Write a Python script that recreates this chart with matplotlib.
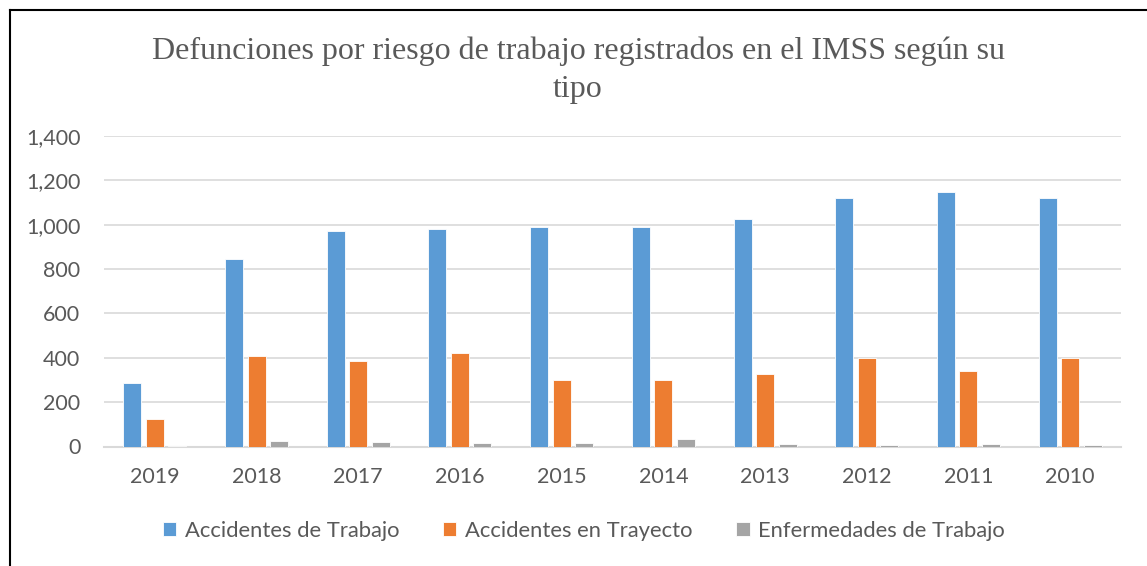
import matplotlib
matplotlib.use("Agg")
import matplotlib.pyplot as plt
from matplotlib.lines import Line2D
from matplotlib.ticker import FuncFormatter
import numpy as np

years = ["2019", "2018", "2017", "2016", "2015", "2014", "2013", "2012", "2011", "2010"]
accidentes_trabajo = [286, 845, 971, 982, 991, 991, 1024, 1122, 1149, 1122]
accidentes_trayecto = [123, 409, 385, 421, 302, 299, 327, 400, 341, 400]
enfermedades_trabajo = [2, 24, 21, 16, 16, 35, 12, 7, 12, 7]
series_names = ["Accidentes de Trabajo", "Accidentes en Trayecto", "Enfermedades de Trabajo"]
colors = ["#5B9BD5", "#ED7D31", "#A5A5A5"]
title_lines = ["Defunciones por riesgo de trabajo registrados en el IMSS según su", "tipo"]

W, H = 1147, 566
fig = plt.figure(figsize=(W / 100, H / 100), dpi=100)
fig.patch.set_facecolor("white")

ax = fig.add_axes([104 / W, 1 - 446.5 / H, (1121 - 104) / W, (446.5 - 136) / H])
x = np.arange(len(years))
bw = 0.177
step = 0.221
for i, (vals, name, c) in enumerate(zip([accidentes_trabajo, accidentes_trayecto, enfermedades_trabajo], series_names, colors)):
    ax.bar(x + (i - 1) * step, vals, width=bw, color=c, edgecolor="white", linewidth=0.6, label=name, zorder=3)

ax.set_xlim(-0.5, len(years) - 0.5)
ax.set_ylim(0, 1400)
ax.set_yticks(np.arange(0, 1401, 200))
ax.yaxis.set_major_formatter(FuncFormatter(lambda v, p: f"{int(v):,}"))
ax.set_xticks(x)
ax.set_xticklabels(years)
ax.grid(axis="y", color="#D9D9D9", linewidth=1.2, zorder=0)
ax.set_axisbelow(True)
for s in ["top", "right", "left"]:
    ax.spines[s].set_visible(False)
ax.spines["bottom"].set_color("#D9D9D9")
ax.spines["bottom"].set_linewidth(1.5)
ax.tick_params(axis="both", length=0, labelsize=15.5, labelcolor="#595959", colors="#595959")
ax.tick_params(axis="y", pad=17)
ax.tick_params(axis="x", pad=15)
for lab in ax.get_xticklabels() + ax.get_yticklabels():
    lab.set_fontfamily("Lato")

fig.text(578 / W, 1 - 59 / H, title_lines[0], ha="center", va="baseline",
         fontsize=23, color="#595959", fontfamily="Liberation Serif")
fig.text(578 / W, 1 - 97 / H, title_lines[1], ha="center", va="baseline",
         fontsize=23, color="#595959", fontfamily="Liberation Serif")

leg = fig.legend(loc="center", bbox_to_anchor=(584 / W, 1 - 531 / H), ncol=3, frameon=False,
                 handlelength=0.6, handleheight=0.6, handletextpad=0.4, columnspacing=2.0,
                 prop={"family": "Lato", "size": 15.8})
for t in leg.get_texts():
    t.set_color("#595959")

fig.add_artist(Line2D([9.5 / W, 9.5 / W], [0, 1 - 9.5 / H], transform=fig.transFigure, color="black", linewidth=1.5))
fig.add_artist(Line2D([9.5 / W, 1], [1 - 9.5 / H, 1 - 9.5 / H], transform=fig.transFigure, color="black", linewidth=1.5))

fig.savefig("out.png", dpi=100)
